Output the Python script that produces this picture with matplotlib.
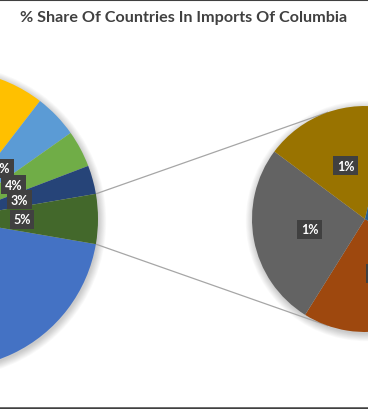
import numpy as np
import matplotlib
matplotlib.use("Agg")
import matplotlib.pyplot as plt
from matplotlib.patches import Circle

# ---- data ----
title = "% Share Of Countries In Imports Of Columbia"
main_values = [30.5, 20.5, 16.5, 15.25, 4.75, 4.0, 3.1]
main_colors = ["#4472C4", "#ED7D31", "#A5A5A5", "#FFC000", "#5B9BD5", "#70AD47", "#264478"]
sec_values = [1.38, 1.42, 1.0, 1.6]
sec_colors = ["#9E480E", "#636363", "#997300", "#255E91"]
other_color = "#43682B"

W, H = 368, 410
fig = plt.figure(figsize=(W / 100, H / 100), dpi=100)
ax = fig.add_axes([0, 0, 1, 1])

main_c = (-51.0, 190.0)
main_r = 149.0
sec_c = (365.0, 190.0)
sec_r = 113.0

other = sum(sec_values)
total = sum(main_values) + other
sec_total = sum(sec_values)
other_deg = other / total * 360.0


def shadow(c, r):
    for k in range(9):
        ax.add_patch(Circle((c[0] + 1.0, c[1] - 2.0), r + k * 0.9, color="black",
                            alpha=0.022, lw=0, zorder=1))


shadow(main_c, main_r)
shadow(sec_c, sec_r)

lbl_kw = dict(color="white", fontsize=9, fontweight="bold", family="Lato")
box = dict(boxstyle="square,pad=0.28", fc="#404040", ec="none")

wm, tm, am = ax.pie(main_values + [other], colors=main_colors + [other_color],
                    center=main_c, radius=main_r, startangle=-other_deg / 2,
                    counterclock=False, wedgeprops=dict(lw=0, zorder=2),
                    autopct=lambda p: f"{p * total / 100:.0f}%", pctdistance=0.49,
                    textprops=lbl_kw)
for t in am:
    t.set_bbox(box)
    t.set_zorder(5)

# secondary pie: first slice starts at -30 deg going clockwise
ws, ts, as_ = ax.pie(sec_values, colors=sec_colors, center=sec_c, radius=sec_r,
                     startangle=-30, counterclock=False,
                     wedgeprops=dict(lw=0, zorder=2),
                     autopct=lambda p: f"{p * sec_total / 100:.0f}%", pctdistance=0.5,
                     textprops=lbl_kw)
for t in as_:
    t.set_bbox(box)
    t.set_zorder(5)

# connector lines: from the edges of the "other" slice, tangent to the secondary pie
a = np.deg2rad(other_deg / 2)
for sgn in (1, -1):
    px = main_c[0] + main_r * np.cos(a)
    py = main_c[1] + sgn * main_r * np.sin(a)
    dx, dy = px - sec_c[0], py - sec_c[1]
    L = np.hypot(dx, dy)
    base = np.arctan2(dy, dx)
    phi = base - sgn * np.arccos(sec_r / L)
    tx = sec_c[0] + sec_r * np.cos(phi)
    ty = sec_c[1] + sec_r * np.sin(phi)
    ax.plot([px, tx], [py, ty], color="#a6a6a6", lw=0.9, zorder=1.5)

ax.set_xlim(0, W)
ax.set_ylim(0, H)
ax.set_aspect("equal")
ax.axis("off")

fig.add_artist(plt.Line2D([0, 1], [1 - 0.5 / H, 1 - 0.5 / H], color="#404040", lw=1.5))
fig.add_artist(plt.Line2D([0, 1], [1.0 / H, 1.0 / H], color="#404040", lw=1.8))

fig.text(0.5, 1 - 18 / H, title, ha="center", va="center", fontsize=11.6,
         fontweight="bold", color="#404040", family="Lato")

fig.savefig("out.png", dpi=100)
